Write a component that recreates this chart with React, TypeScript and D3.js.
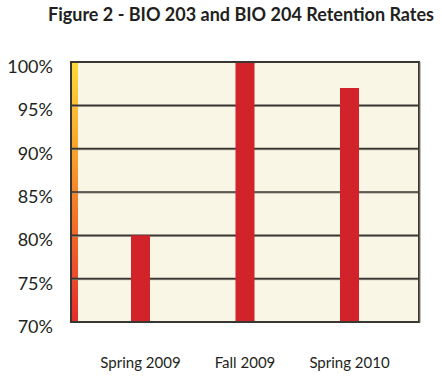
import React from "react";
import * as d3 from "d3";

const title = "Figure 2 - BIO 203 and BIO 204 Retention Rates";
const categories = ["Spring 2009", "Fall 2009", "Spring 2010"];
const values = [80, 100, 97];
const yTicks = [70, 75, 80, 85, 90, 95, 100];

const W = 442, H = 376;
const left = 71, right = 419, top = 62, bottom = 322;

export default function App() {
  const y = d3.scaleLinear().domain([70, 100]).range([bottom, top]);
  const x = d3.scalePoint<string>().domain(categories).range([left, right]).padding(0.665);
  const bw = 19;
  return (
    <svg width={W} height={H} style={{ position: "absolute", left: 0, top: 0 }} fontFamily="Lato, 'Open Sans', sans-serif">
      <defs>
        <linearGradient id="strip" x1="0" y1="0" x2="0" y2="1">
          <stop offset="0" stopColor="#FFDA3A" />
          <stop offset="0.35" stopColor="#F9A12C" />
          <stop offset="0.65" stopColor="#F26A28" />
          <stop offset="1" stopColor="#E42A2C" />
        </linearGradient>
      </defs>
      <text x={241} y={21} textAnchor="middle" fontSize={18} fontWeight="bold" fill="#231F20">{title}</text>
      <rect x={left} y={top} width={right - left} height={bottom - top} fill="#FAF6E5" />
      <rect x={left} y={y(100)} width={7} height={y(70) - y(100)} fill="url(#strip)" />
      {yTicks.slice(1, -1).map((t) => (
        <g key={t}>
          <line x1={left} x2={right} y1={y(t) + 1} y2={y(t) + 1} stroke="#9a968c" strokeWidth={1} />
          <line x1={left} x2={right} y1={y(t)} y2={y(t)} stroke="#3a3632" strokeWidth={1.6} />
        </g>
      ))}
      {categories.map((c, i) => (
        <rect key={c} x={(x(c) as number) - bw / 2} y={y(values[i])} width={bw} height={y(70) - y(values[i])} fill="#D2232A" />
      ))}
      <rect x={left} y={top} width={right - left} height={bottom - top} fill="none" stroke="#3a3632" strokeWidth={2} />
      <line x1={right + 1} x2={right + 1} y1={top} y2={bottom + 1} stroke="#8a8680" strokeWidth={1} />
      {yTicks.map((t) => (
        <text key={t} x={53} y={y(t) + 11} textAnchor="end" fontSize={18} fill="#231F20">{t}%</text>
      ))}
      {categories.map((c) => (
        <text key={c} x={x(c) as number} y={368} textAnchor="middle" fontSize={15} fill="#231F20">{c}</text>
      ))}
    </svg>
  );
}
